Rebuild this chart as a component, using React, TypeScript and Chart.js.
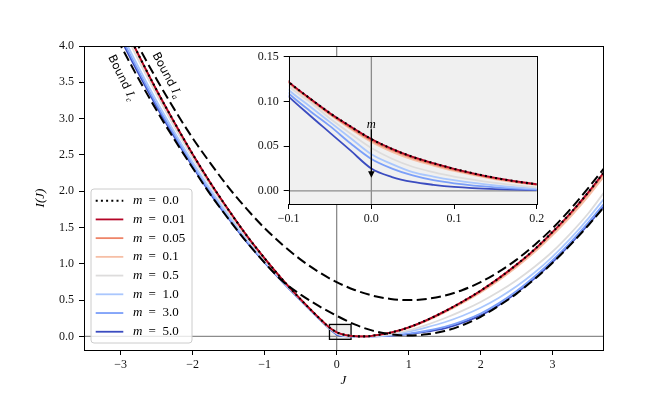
import React, { useEffect, useRef } from 'react';
import { Chart, registerables } from 'chart.js';

Chart.register(...registerables);

// ---------- data ----------
const J = [-3.5, -3.25, -3.0, -2.75, -2.5, -2.25, -2.0, -1.75, -1.5, -1.25, -1.0, -0.75, -0.5, -0.25,
  -0.1, -0.075, -0.05, -0.025, 0, 0.025, 0.05, 0.075, 0.1, 0.15, 0.2,
  0.25, 0.3, 0.4, 0.5,
  0.75, 1.0, 1.25, 1.5, 1.75, 2.0, 2.25, 2.5, 2.75, 3.0, 3.25, 3.5, 3.75];

const m0 = [5.49, 4.92, 4.385, 3.875, 3.39, 2.94, 2.51, 2.11, 1.74, 1.39, 1.075, 0.78, 0.51, 0.26,
  0.122, 0.104, 0.087, 0.072, 0.058, 0.047, 0.038, 0.031, 0.0247, 0.0145, 0.0074,
  0.0032, 0.001, 0.0008, 0.01,
  0.052, 0.125, 0.225, 0.345, 0.48, 0.63, 0.8, 0.99, 1.2, 1.44, 1.7, 1.99, 2.31];
const m001 = [5.49, 4.92, 4.385, 3.875, 3.39, 2.94, 2.51, 2.11, 1.74, 1.39, 1.075, 0.78, 0.51, 0.26,
  0.122, 0.104, 0.087, 0.072, 0.058, 0.047, 0.038, 0.031, 0.0247, 0.0145, 0.0074,
  0.0032, 0.001, 0.0008, 0.01,
  0.052, 0.125, 0.225, 0.345, 0.48, 0.63, 0.8, 0.99, 1.2, 1.44, 1.7, 1.99, 2.31];
const m005 = [5.48, 4.91, 4.38, 3.87, 3.385, 2.935, 2.507, 2.107, 1.738, 1.388, 1.074, 0.779, 0.509, 0.2595,
  0.1215, 0.1035, 0.0862, 0.0707, 0.0565, 0.0455, 0.0366, 0.0297, 0.0235, 0.0137, 0.007,
  0.003, 0.001, 0.0008, 0.0095,
  0.051, 0.123, 0.222, 0.341, 0.475, 0.624, 0.792, 0.98, 1.188, 1.426, 1.684, 1.972, 2.29];
const m01 = [5.47, 4.905, 4.37, 3.862, 3.38, 2.93, 2.502, 2.103, 1.734, 1.386, 1.072, 0.778, 0.509, 0.259,
  0.1205, 0.1023, 0.0851, 0.0693, 0.0548, 0.0437, 0.035, 0.0283, 0.0223, 0.013, 0.0066,
  0.0028, 0.001, 0.0008, 0.009,
  0.049, 0.118, 0.214, 0.33, 0.46, 0.605, 0.77, 0.955, 1.16, 1.395, 1.65, 1.935, 2.25];
const m05 = [5.39, 4.83, 4.305, 3.8, 3.33, 2.88, 2.46, 2.07, 1.705, 1.365, 1.058, 0.77, 0.504, 0.255,
  0.117, 0.1, 0.081, 0.064, 0.048, 0.036, 0.027, 0.021, 0.016, 0.009, 0.004,
  0.002, 0.001, 0.0006, 0.004,
  0.032, 0.085, 0.16, 0.25, 0.355, 0.475, 0.615, 0.775, 0.96, 1.17, 1.42, 1.7, 2.03];
const m1 = [5.26, 4.71, 4.195, 3.705, 3.24, 2.81, 2.4, 2.015, 1.66, 1.335, 1.035, 0.757, 0.497, 0.25,
  0.113, 0.095, 0.077, 0.059, 0.041, 0.03, 0.021, 0.016, 0.012, 0.006, 0.0025,
  0.001, 0.0005, 0.0003, 0.002,
  0.022, 0.065, 0.125, 0.195, 0.285, 0.395, 0.53, 0.69, 0.88, 1.1, 1.35, 1.63, 1.94];
const m3 = [5.18, 4.64, 4.135, 3.655, 3.195, 2.77, 2.365, 1.985, 1.64, 1.318, 1.025, 0.752, 0.495, 0.247,
  0.109, 0.09, 0.0725, 0.053, 0.0357, 0.025, 0.0173, 0.012, 0.0085, 0.004, 0.0015,
  0.0007, 0.0003, 0.0002, 0.001,
  0.013, 0.04, 0.078, 0.13, 0.21, 0.315, 0.455, 0.625, 0.825, 1.05, 1.3, 1.575, 1.87];
const m5 = [5.13, 4.59, 4.095, 3.615, 3.16, 2.74, 2.34, 1.96, 1.62, 1.3, 1.015, 0.747, 0.492, 0.245,
  0.1056, 0.085, 0.065, 0.045, 0.025, 0.0155, 0.01, 0.0068, 0.0045, 0.002, 0.0008,
  0.0004, 0.0002, 0.0001, 0.0006,
  0.01, 0.032, 0.065, 0.11, 0.19, 0.29, 0.43, 0.6, 0.8, 1.025, 1.275, 1.545, 1.835];

const boundJ = [-3.5, -3.25, -3.0, -2.75, -2.5, -2.25, -2.0, -1.75, -1.5, -1.25, -1.0, -0.75, -0.5, -0.25, 0,
  0.25, 0.5, 0.75, 1.0, 1.25, 1.5, 1.75, 2.0, 2.25, 2.5, 2.75, 3.0, 3.25, 3.5, 3.75];
const boundA = [5.52, 4.98, 4.47, 3.99, 3.54, 3.12, 2.73, 2.38, 2.05, 1.756, 1.49, 1.26, 1.058, 0.888, 0.748,
  0.64, 0.562, 0.516, 0.5, 0.516, 0.562, 0.64, 0.748, 0.888, 1.058, 1.26, 1.49, 1.756, 2.05, 2.36];
const boundC = [4.98, 4.47, 4.005, 3.545, 3.11, 2.705, 2.32, 1.95, 1.615, 1.3, 1.015, 0.76, 0.575, 0.42, 0.285,
  0.165, 0.08, 0.03, 0.012, 0.03, 0.075, 0.155, 0.27, 0.42, 0.59, 0.79, 1.015, 1.265, 1.535, 1.825];

const mLabels = ['0.0', '0.01', '0.05', '0.1', '0.5', '1.0', '3.0', '5.0'];
const mSeries = [m0, m001, m005, m01, m05, m1, m3, m5];
const mColors = ['#000000', '#b40426', '#ee8468', '#f6bfa6', '#dddcdc', '#aac7fd', '#7b9ff9', '#3b4cc0'];

const xTicks = [-3, -2, -1, 0, 1, 2, 3];
const xTickLabels = ['\u22123', '\u22122', '\u22121', '0', '1', '2', '3'];
const yTicks = [0, 0.5, 1.0, 1.5, 2.0, 2.5, 3.0, 3.5, 4.0];
const yTickLabels = ['0.0', '0.5', '1.0', '1.5', '2.0', '2.5', '3.0', '3.5', '4.0'];
const insetXTicks = [-0.1, 0, 0.1, 0.2];
const insetXTickLabels = ['\u22120.1', '0.0', '0.1', '0.2'];
const insetYTicks = [0, 0.05, 0.1, 0.15];
const insetYTickLabels = ['0.00', '0.05', '0.10', '0.15'];

const X_RANGE = [-3.51, 3.70];
const Y_RANGE = [-0.187, 4.0];
const INSET_X = [-0.1, 0.2];
const INSET_Y = [-0.0147, 0.1508];
const ZOOM_BOX_Y = [-0.04, 0.165];
const ARROW = { x: 0, from: 0.069, to: 0.0148, label: 0.0744 };

const SERIF = '"Liberation Serif", "DejaVu Serif", serif';

function buildDatasets() {
  const ds: any[] = [];
  ds.push({
    label: 'Bound I_a', data: boundJ.map((x, i) => ({ x, y: boundA[i] })),
    borderColor: '#000', borderWidth: 2, borderDash: [10, 4.4], pointRadius: 0,
    cubicInterpolationMode: 'monotone', order: 0, fill: false,
  });
  ds.push({
    label: 'Bound I_c', data: boundJ.map((x, i) => ({ x, y: boundC[i] })),
    borderColor: '#000', borderWidth: 2, borderDash: [10, 4.4], pointRadius: 0,
    cubicInterpolationMode: 'monotone', order: 0, fill: false,
  });
  mSeries.forEach((arr, k) => {
    const isZero = k === 0;
    ds.push({
      label: 'm = ' + mLabels[k], data: J.map((x, i) => ({ x, y: arr[i] })),
      borderColor: mColors[k], borderWidth: isZero ? 2.1 : 1.8,
      borderDash: isZero ? [2, 3.2] : [], pointRadius: 0,
      cubicInterpolationMode: 'monotone', fill: false,
      order: k + 1,
    });
  });
  return ds;
}

function tickFont() {
  return { family: SERIF, size: 12 };
}

function drawBoundLabel(ctx: CanvasRenderingContext2D, cx: number, cy: number, angle: number, sub: string) {
  ctx.save();
  ctx.translate(cx, cy);
  ctx.rotate((angle * Math.PI) / 180);
  ctx.textBaseline = 'alphabetic';
  ctx.textAlign = 'left';
  const f1 = '11.5px "DejaVu Sans", sans-serif';
  const f2 = 'italic 12.5px ' + SERIF;
  const f3 = 'italic 8.5px ' + SERIF;
  ctx.font = f1; const w1 = ctx.measureText('Bound ').width;
  ctx.font = f2; const w2 = ctx.measureText('I').width;
  ctx.font = f3; const w3 = ctx.measureText(sub).width;
  const total = w1 + w2 + w3 + 1;
  let x = -total / 2;
  const y = 4;
  ctx.fillStyle = '#000';
  ctx.font = f1; ctx.fillText('Bound ', x, y); x += w1;
  ctx.font = f2; ctx.fillText('I', x, y); x += w2 + 1;
  ctx.font = f3; ctx.fillText(sub, x, y + 2.5);
  ctx.restore();
}

const mainDecor = {
  id: 'mainDecor',
  beforeDatasetsDraw(chart: any) {
    const { ctx, chartArea: a, scales } = chart;
    const xs = scales.x, ys = scales.y;
    ctx.save();
    const bx0 = xs.getPixelForValue(INSET_X[0]), bx1 = xs.getPixelForValue(INSET_X[1]);
    const by0 = ys.getPixelForValue(ZOOM_BOX_Y[0]), by1 = ys.getPixelForValue(ZOOM_BOX_Y[1]);
    ctx.fillStyle = '#efefef';
    ctx.fillRect(bx0, by1, bx1 - bx0, by0 - by1);
    ctx.strokeStyle = '#8c8c8c';
    ctx.lineWidth = 1.3;
    const x0 = xs.getPixelForValue(0), y0 = ys.getPixelForValue(0);
    ctx.beginPath();
    ctx.moveTo(a.left, y0); ctx.lineTo(a.right, y0);
    ctx.moveTo(x0, a.top); ctx.lineTo(x0, a.bottom);
    ctx.stroke();
    ctx.strokeStyle = '#000';
    ctx.lineWidth = 1.3;
    ctx.strokeRect(bx0, by1, bx1 - bx0, by0 - by1);
    ctx.restore();
  },
  afterDatasetsDraw(chart: any) {
    const { ctx, chartArea: a } = chart;
    ctx.save();
    ctx.strokeStyle = '#000';
    ctx.lineWidth = 1;
    ctx.strokeRect(Math.round(a.left) + 0.5, Math.round(a.top) + 0.5, Math.round(a.right - a.left), Math.round(a.bottom - a.top));
    drawBoundLabel(ctx, 122.5, 77.5, 64, 'c');
    drawBoundLabel(ctx, 167.5, 75, 62, 'a');

    const lx = 91, ly = 189, lw = 101, lh = 154, r = 3;
    ctx.beginPath();
    ctx.moveTo(lx + r, ly);
    ctx.lineTo(lx + lw - r, ly); ctx.quadraticCurveTo(lx + lw, ly, lx + lw, ly + r);
    ctx.lineTo(lx + lw, ly + lh - r); ctx.quadraticCurveTo(lx + lw, ly + lh, lx + lw - r, ly + lh);
    ctx.lineTo(lx + r, ly + lh); ctx.quadraticCurveTo(lx, ly + lh, lx, ly + lh - r);
    ctx.lineTo(lx, ly + r); ctx.quadraticCurveTo(lx, ly, lx + r, ly);
    ctx.closePath();
    ctx.fillStyle = 'rgba(255,255,255,0.8)';
    ctx.fill();
    ctx.strokeStyle = '#cccccc';
    ctx.lineWidth = 1;
    ctx.stroke();
    mLabels.forEach((lab, k) => {
      const cy = 200.7 + k * 18.72;
      ctx.save();
      ctx.strokeStyle = mColors[k];
      ctx.lineWidth = k === 0 ? 2.1 : 1.8;
      ctx.setLineDash(k === 0 ? [2, 3.2] : []);
      ctx.beginPath();
      ctx.moveTo(95.7, cy); ctx.lineTo(123.3, cy);
      ctx.stroke();
      ctx.restore();
      ctx.fillStyle = '#000';
      ctx.textBaseline = 'middle';
      ctx.textAlign = 'left';
      ctx.font = 'italic 13px ' + SERIF;
      ctx.fillText('m', 133, cy);
      ctx.font = '13px ' + SERIF;
      ctx.fillText('=', 148.5, cy);
      ctx.fillText(lab, 162.5, cy);
    });
    ctx.restore();
  },
};

const insetDecor = {
  id: 'insetDecor',
  beforeDraw(chart: any) {
    const { ctx, chartArea: a } = chart;
    if (!a) return;
    ctx.save();
    ctx.fillStyle = '#f0f0f0';
    ctx.fillRect(a.left, a.top, a.right - a.left, a.bottom - a.top);
    ctx.restore();
  },
  beforeDatasetsDraw(chart: any) {
    const { ctx, chartArea: a, scales } = chart;
    ctx.save();
    ctx.strokeStyle = '#8c8c8c';
    ctx.lineWidth = 1.3;
    const x0 = scales.x.getPixelForValue(0), y0 = scales.y.getPixelForValue(0);
    ctx.beginPath();
    ctx.moveTo(a.left, y0); ctx.lineTo(a.right, y0);
    ctx.moveTo(x0, a.top); ctx.lineTo(x0, a.bottom);
    ctx.stroke();
    ctx.restore();
  },
  afterDatasetsDraw(chart: any) {
    const { ctx, chartArea: a, scales } = chart;
    ctx.save();
    const ax = scales.x.getPixelForValue(ARROW.x);
    const yTop = scales.y.getPixelForValue(ARROW.from);
    const yTip = scales.y.getPixelForValue(ARROW.to);
    ctx.strokeStyle = '#000';
    ctx.fillStyle = '#000';
    ctx.lineWidth = 1.3;
    ctx.beginPath();
    ctx.moveTo(ax, yTop); ctx.lineTo(ax, yTip - 5);
    ctx.stroke();
    ctx.beginPath();
    ctx.moveTo(ax, yTip); ctx.lineTo(ax - 3.3, yTip - 6.5); ctx.lineTo(ax + 3.3, yTip - 6.5);
    ctx.closePath(); ctx.fill();
    ctx.font = 'italic 12.5px ' + SERIF;
    ctx.textAlign = 'center';
    ctx.textBaseline = 'middle';
    ctx.fillText('m', ax, scales.y.getPixelForValue(ARROW.label));
    ctx.lineWidth = 1;
    ctx.strokeRect(Math.round(a.left) + 0.5, Math.round(a.top) + 0.5, Math.round(a.right - a.left), Math.round(a.bottom - a.top));
    ctx.restore();
  },
};

function axisGrid() {
  return { display: true, drawOnChartArea: false, drawTicks: true, tickLength: 5, color: '#000', lineWidth: 1 };
}

export default function App() {
  const mainRef = useRef<HTMLCanvasElement>(null);
  const insetRef = useRef<HTMLCanvasElement>(null);

  useEffect(() => {
    const main = new Chart(mainRef.current as HTMLCanvasElement, {
      type: 'line',
      data: { datasets: buildDatasets() },
      options: {
        responsive: false, animation: false, devicePixelRatio: 1,
        layout: { padding: { left: 0, right: 67, top: 46, bottom: 0 } },
        plugins: { legend: { display: false }, tooltip: { enabled: false } },
        scales: {
          x: {
            type: 'linear', min: X_RANGE[0], max: X_RANGE[1],
            afterBuildTicks: (s: any) => { s.ticks = xTicks.map((v) => ({ value: v })); },
            afterFit: (s: any) => { s.height = 44; },
            ticks: { font: tickFont(), color: '#111', padding: 3, maxRotation: 0, autoSkip: false,
              callback: (_v: any, i: number) => xTickLabels[i] },
            grid: axisGrid(), border: { display: false },
            title: { display: true, text: 'J', color: '#000', font: { family: SERIF, size: 13, style: 'italic' }, padding: { top: 0, bottom: 6 } },
          },
          y: {
            type: 'linear', min: Y_RANGE[0], max: Y_RANGE[1],
            afterBuildTicks: (s: any) => { s.ticks = yTicks.map((v) => ({ value: v })); },
            afterFit: (s: any) => { s.width = 84; },
            ticks: { font: tickFont(), color: '#111', padding: 5, autoSkip: false,
              callback: (_v: any, i: number) => yTickLabels[i] },
            grid: axisGrid(), border: { display: false },
            title: { display: true, text: 'I(J)', color: '#000', font: { family: SERIF, size: 13, style: 'italic' }, padding: { top: 33, bottom: 0 } },
          },
        },
      } as any,
      plugins: [mainDecor],
    });

    const inset = new Chart(insetRef.current as HTMLCanvasElement, {
      type: 'line',
      data: { datasets: buildDatasets() },
      options: {
        responsive: false, animation: false, devicePixelRatio: 1,
        layout: { padding: { left: 0, right: 13.3, top: 10.3, bottom: 0 } },
        plugins: { legend: { display: false }, tooltip: { enabled: false } },
        scales: {
          x: {
            type: 'linear', min: INSET_X[0], max: INSET_X[1],
            afterBuildTicks: (s: any) => { s.ticks = insetXTicks.map((v) => ({ value: v })); },
            afterFit: (s: any) => { s.height = 26; },
            ticks: { font: tickFont(), color: '#111', padding: 3, maxRotation: 0, autoSkip: false,
              callback: (_v: any, i: number) => insetXTickLabels[i] },
            grid: axisGrid(), border: { display: false },
          },
          y: {
            type: 'linear', min: INSET_Y[0], max: INSET_Y[1],
            afterBuildTicks: (s: any) => { s.ticks = insetYTicks.map((v) => ({ value: v })); },
            afterFit: (s: any) => { s.width = 58.7; },
            ticks: { font: tickFont(), color: '#111', padding: 5, autoSkip: false,
              callback: (_v: any, i: number) => insetYTickLabels[i] },
            grid: axisGrid(), border: { display: false },
          },
        },
      } as any,
      plugins: [insetDecor],
    });

    return () => { main.destroy(); inset.destroy(); };
  }, []);

  return (
    <div style={{ position: 'absolute', left: 0, top: 0, width: 670, height: 394, background: '#fff' }}>
      <canvas ref={mainRef} width={670} height={394} style={{ position: 'absolute', left: 0, top: 0, width: 670, height: 394 }} />
      <canvas ref={insetRef} width={320} height={186} style={{ position: 'absolute', left: 230, top: 44, width: 320, height: 186 }} />
    </div>
  );
}
